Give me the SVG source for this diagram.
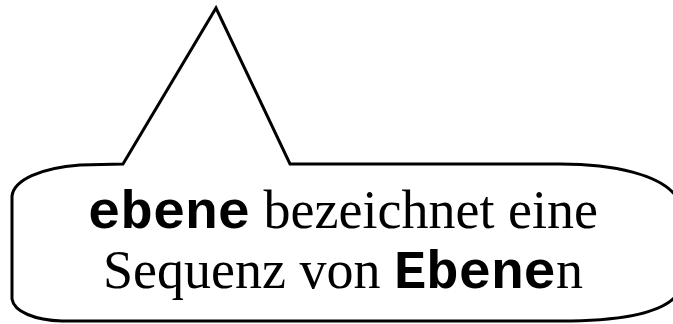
<svg xmlns="http://www.w3.org/2000/svg" width="673" height="324" viewBox="0 0 673 324">
<style>
.outline{fill:#fff;stroke:#000;stroke-width:3;stroke-linejoin:miter}
.t{font-family:"Liberation Serif","Times New Roman",serif;font-size:54px;fill:#000}
.m{font-family:"Liberation Mono","Courier New",monospace;font-weight:bold}
</style>
<rect width="673" height="324" fill="#fff"/>
<g id="callout">
<path class="outline" d="M123,164 L216,8 L290,164 L560,164 C615,164 660,175 676,196 L676,296 C660,314 615,321 560,321 L62,321 C35,320 14,312 12,299 L12,196 C14,180 40,168 80,165 Z"/>
<text class="t" x="343" y="228" text-anchor="middle"><tspan class="m">ebene</tspan> bezeichnet eine</text>
<text class="t" x="343" y="288" text-anchor="middle">Sequenz von <tspan class="m">Ebene</tspan>n</text>
</g>
</svg>
